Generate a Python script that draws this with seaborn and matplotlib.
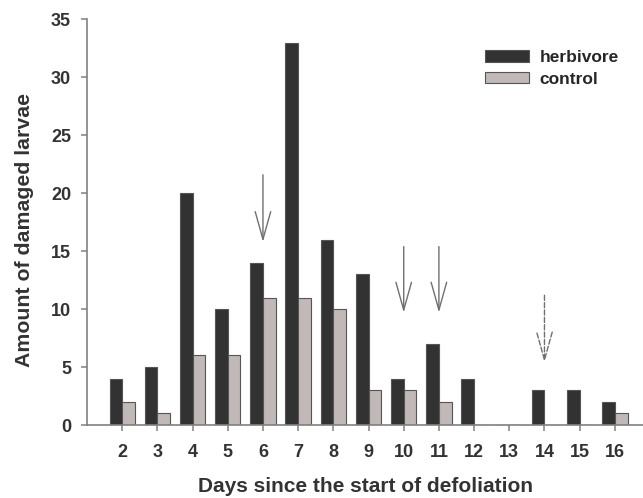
import matplotlib
matplotlib.use('Agg')
import matplotlib.pyplot as plt
from matplotlib.patches import ArrowStyle
import seaborn as sns
import pandas as pd

days = [2, 3, 4, 5, 6, 7, 8, 9, 10, 11, 12, 13, 14, 15, 16]
herbivore = [4, 5, 20, 10, 14, 33, 16, 13, 4, 7, 4, 0, 3, 3, 2]
control = [2, 1, 6, 6, 11, 11, 10, 3, 3, 2, 0, 0, 0, 0, 1]
series_names = ['herbivore', 'control']
y_ticks = [0, 5, 10, 15, 20, 25, 30, 35]

# arrows: (day, top value, tip value, dashed)
arrow_days = [6, 10, 11, 14]
arrow_tops = [21.6, 15.4, 15.4, 11.2]
arrow_tips = [15.8, 9.7, 9.7, 5.4]
arrow_dashed = [False, False, False, True]

sns.set_style('white')
plt.rcParams['font.family'] = ['Liberation Sans', 'DejaVu Sans']
plt.rcParams['font.weight'] = 'bold'

df = pd.DataFrame({
    'day': [str(d) for d in days] * 2,
    'value': herbivore + control,
    'group': ['herbivore'] * len(days) + ['control'] * len(days),
})

fig = plt.figure(figsize=(6.43, 4.98), dpi=100)
ax = fig.add_axes([87 / 643, 73 / 498, 1 - 87 / 643, (425 - 19.5) / 498])

palette = {'herbivore': '#323232', 'control': '#c3b8b5'}
sns.barplot(data=df, x='day', y='value', hue='group', hue_order=series_names,
            order=[str(d) for d in days], palette=palette, width=0.72,
            edgecolor='#555555', linewidth=0.8, ax=ax, legend=True)

ax.set_xlim(-1, 14.8)
ax.set_ylim(0, 35)
ax.set_yticks(y_ticks)

for s in ['top', 'right']:
    ax.spines[s].set_visible(False)
for s in ['left', 'bottom']:
    ax.spines[s].set_color('#808080')
    ax.spines[s].set_linewidth(1.2)

ax.tick_params(axis='both', which='major', direction='out', length=4.5, width=1.1,
               color='#808080', labelsize=13, labelcolor='#333333', left=True, bottom=True)
ax.tick_params(axis='x', pad=9)
ax.tick_params(axis='y', pad=7)
for lab in ax.get_xticklabels() + ax.get_yticklabels():
    lab.set_fontweight('bold')

ax.set_xlabel('Days since the start of defoliation', fontsize=15, fontweight='bold',
              color='#333333')
ax.set_ylabel('Amount of damaged larvae', fontsize=15.3, fontweight='bold',
              color='#333333')
ax.xaxis.set_label_coords(0.5, -(477 - 425) / 405.5)
ax.yaxis.set_label_coords(-(87 - 34) / 556, (425 - 230) / 405.5)

for d, top, tip, dashed in zip(arrow_days, arrow_tops, arrow_tips, arrow_dashed):
    xpos = days.index(d)
    ax.annotate('', xy=(xpos, tip), xytext=(xpos, top),
                arrowprops=dict(arrowstyle=ArrowStyle('->', head_length=1.0, head_width=0.28),
                                mutation_scale=20, color='#707070', lw=1.0,
                                linestyle='--' if dashed else '-',
                                shrinkA=0, shrinkB=0))

handles, labels = ax.get_legend_handles_labels()
ax.legend(handles, labels, loc='upper left', bbox_to_anchor=(485 / 643, 1 - 50 / 498),
          bbox_transform=fig.transFigure, frameon=False,
          handlelength=2.53, handleheight=0.63, handletextpad=0.63, labelspacing=0.38,
          borderpad=0, borderaxespad=0, prop={'weight': 'bold', 'size': 12.5})

fig.savefig('out.png', dpi=100)
